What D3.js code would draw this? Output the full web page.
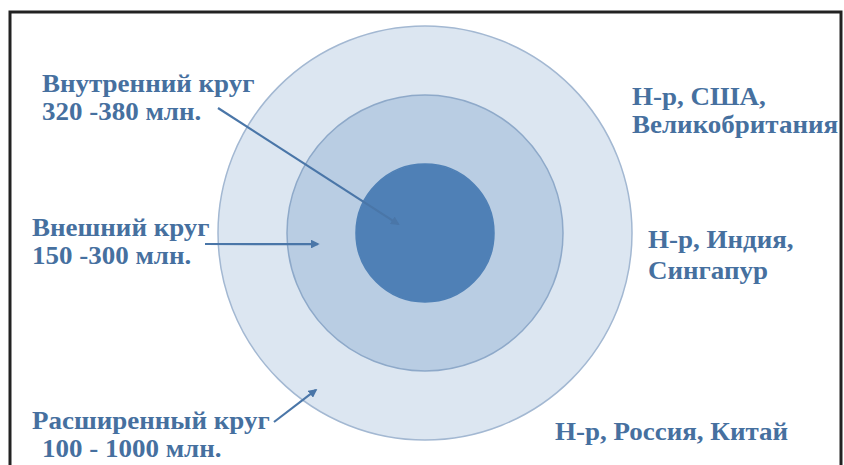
<!DOCTYPE html>
<html>
<head>
<meta charset="utf-8">
<script src="https://cdn.jsdelivr.net/npm/d3@7"></script>
<style>
  body { margin: 0; background: #fff; }
  svg { display: block; }
  .lbl { font-family: "Liberation Serif", "Times New Roman", serif; font-weight: bold; fill: #46709f; font-size: 25px; }
</style>
</head>
<body>
<svg width="844" height="465"></svg>
<script>
// круги: уровень 1 = внутренний, 3 = расширенный
var levels = [3, 2, 1];
var ringNames = ["Расширенный круг", "Внешний круг", "Внутренний круг"];
var ringRanges = ["100 - 1000 млн.", "150 -300 млн.", "320 -380 млн."];
var ringExamples = [["Н-р, Россия, Китай"], ["Н-р, Индия,", "Сингапур"], ["Н-р, США,", "Великобритания"]];
var fills = ["#dce6f1", "#b9cde3", "#4f80b6"];
var strokes = ["#a3b8d2", "#8ea9c9", "#4f80b6"];

var svg = d3.select("svg"),
    cx = 425, cy = 233,
    stretch = 1.08;   // текст в оригинале немного шире

var r = d3.scaleLinear().domain([0, 3]).range([0, 207]);

// рамка
svg.append("rect")
    .attr("x", 10).attr("y", 12)
    .attr("width", 831).attr("height", 470)
    .attr("fill", "none")
    .attr("stroke", "#222")
    .attr("stroke-width", 3);

// наконечник стрелки
svg.append("defs").append("marker")
    .attr("id", "arr")
    .attr("viewBox", "0 0 10 10")
    .attr("refX", 8).attr("refY", 5)
    .attr("markerWidth", 4).attr("markerHeight", 4)
    .attr("orient", "auto")
  .append("path")
    .attr("d", "M0,0 L10,5 L0,10 z")
    .attr("fill", "#4a76a8");

svg.selectAll(".ring")
    .data(levels)
    .enter().append("circle")
    .attr("class", "ring")
    .attr("cx", cx).attr("cy", cy)
    .attr("r", function(d) { return r(d); })
    .attr("fill", function(d, i) { return fills[i]; })
    .attr("stroke", function(d, i) { return strokes[i]; })
    .attr("stroke-width", 1.5);

function label(x, y, t) {
  svg.append("text").attr("class", "lbl")
      .attr("transform", "translate(" + x + "," + y + ") scale(" + stretch + ",1)")
      .text(t);
}

// подписи слева: [x, y первой строки, x второй строки, шаг строки]
var leftPos = [[32, 429, 42, 28], [32, 236, 32, 28], [42, 92, 42, 28]];
levels.forEach(function(d, i) {
  var p = leftPos[i];
  label(p[0], p[1], ringNames[i]);
  label(p[2], p[1] + p[3], ringRanges[i]);
});

// стрелки: хвост [x, y], острие — [уровень по шкале r, угол в градусах]
var arrowTails = [[274, 422], [205, 244], [218, 108]];
var arrowHeads = [[2.77, 124.8], [1.56, 174.1], [0.41, 198.4]];
arrowTails.forEach(function(t, i) {
  var h = arrowHeads[i],
      ang = h[1] * Math.PI / 180;
  svg.append("line")
      .attr("x1", t[0]).attr("y1", t[1])
      .attr("x2", cx + Math.cos(ang) * r(h[0]))
      .attr("y2", cy + Math.sin(ang) * r(h[0]))
      .attr("stroke", "#4a76a8")
      .attr("stroke-width", 2.2)
      .attr("marker-end", "url(#arr)");
});

// примеры справа
var rightPos = [[555, 440, 0], [648, 248, 31], [632, 105, 28]];
levels.forEach(function(d, i) {
  ringExamples[i].forEach(function(t, j) {
    label(rightPos[i][0], rightPos[i][1] + j * rightPos[i][2], t);
  });
});
</script>
</body>
</html>
